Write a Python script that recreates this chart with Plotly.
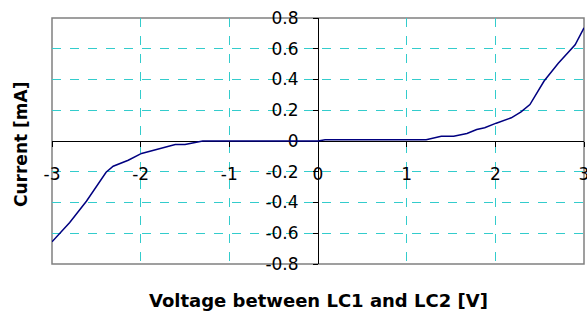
import plotly.graph_objects as go

# Data
voltage = [-3.0, -2.80, -2.61, -2.39, -2.31, -2.14, -1.99, -1.78, -1.61, -1.50, -1.30,
           0.0, 0.08, 1.22, 1.39, 1.53, 1.68, 1.79, 1.88, 2.01, 2.18, 2.29, 2.39,
           2.55, 2.71, 2.90, 3.0]
current = [-0.656, -0.530, -0.390, -0.203, -0.164, -0.125, -0.081, -0.050, -0.023, -0.023, 0.0,
           0.0, 0.008, 0.008, 0.031, 0.031, 0.049, 0.075, 0.086, 0.116, 0.151, 0.189, 0.237,
           0.390, 0.505, 0.626, 0.736]

x_tickvals = [-3, -2, -1, 0, 1, 2, 3]
x_ticktext = ["-3", "-2", "-1", "0", "1", "2", "3"]
y_tickvals = [-0.8, -0.6, -0.4, -0.2, 0, 0.2, 0.4, 0.6, 0.8]
y_ticktext = ["-0.8", "-0.6", "-0.4", "-0.2", "0", "0.2", "0.4", "0.6", "0.8"]

x_title = "Voltage between LC1 and LC2 [V]"
y_title = "Current [mA]"

FONT = "DejaVu Sans"
GRID = "#33CCCC"

fig = go.Figure()
fig.add_trace(go.Scatter(x=voltage, y=current, mode="lines",
                         line=dict(color="#000080", width=1.5),
                         showlegend=False, hoverinfo="skip"))

fig.update_layout(
    template="none",
    width=587, height=312,
    margin=dict(l=52, r=3, t=18, b=48, pad=0),
    paper_bgcolor="white", plot_bgcolor="white",
    showlegend=False,
    xaxis=dict(
        range=[-3, 3], tickmode="array", tickvals=x_tickvals, ticktext=x_ticktext,
        showgrid=True, gridcolor=GRID, griddash="dash", gridwidth=1,
        zeroline=False, showline=True, linecolor="#000000", linewidth=1,
        ticks="outside", ticklen=5, tickcolor="#000000", tickwidth=1,
        anchor="free", position=0.5, layer="below traces",
        tickfont=dict(family=FONT, size=17, color="black"),
        ticklabelstandoff=13, ticklabeloverflow="allow",
        automargin=False, fixedrange=True,
    ),
    yaxis=dict(
        range=[-0.8, 0.8], tickmode="array", tickvals=y_tickvals, ticktext=y_ticktext,
        showgrid=True, gridcolor=GRID, griddash="dash", gridwidth=1,
        zeroline=False, showline=True, linecolor="#000000", linewidth=1,
        ticks="outside", ticklen=5, tickcolor="#000000", tickwidth=1,
        anchor="free", position=0.5, layer="below traces",
        tickfont=dict(family=FONT, size=17, color="black"),
        ticklabelstandoff=11, ticklabeloverflow="allow",
        automargin=False, fixedrange=True,
    ),
    shapes=[dict(type="rect", xref="paper", yref="paper", x0=0, x1=1, y0=0, y1=1,
                 line=dict(color="#808080", width=1.5), layer="between")],
    annotations=[
        dict(text="<b>" + x_title + "</b>", xref="paper", yref="paper", x=0.5, y=0,
             yshift=-36, xanchor="center", yanchor="middle", showarrow=False,
             font=dict(family=FONT, size=18, color="black")),
        dict(text="<b>" + y_title + "</b>", xref="paper", yref="paper", x=0, y=0.5,
             xshift=-31, yshift=-4, textangle=-90, xanchor="center", yanchor="middle",
             showarrow=False, font=dict(family=FONT, size=17, color="black")),
    ],
)

# Remove the default 8px page margin so the figure fills the window exactly.
fig.write_html(
    "out.html",
    config={"displayModeBar": False, "staticPlot": True},
    post_script="document.body.style.margin='0px';"
                "document.documentElement.style.overflow='hidden';",
)
